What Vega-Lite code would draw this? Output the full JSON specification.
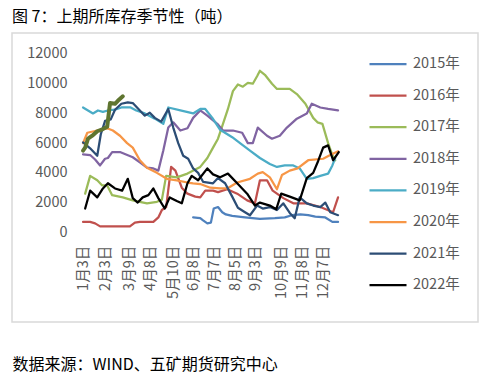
{
  "$schema": "https://vega.github.io/schema/vega-lite/v6.json",
  "width": 466,
  "height": 289,
  "autosize": "none",
  "padding": {"left": 12, "top": 33, "right": 11, "bottom": 59},
  "background": "white",
  "config": {
    "view": {"stroke": "#d9d9d9", "strokeWidth": 1.5},
    "font": "Noto Sans CJK SC"
  },
  "title": {
    "text": "图 7：上期所库存季节性（吨）",
    "anchor": "start",
    "frame": "group",
    "offset": 8,
    "fontSize": 16,
    "fontWeight": "normal",
    "color": "#000000",
    "font": "Noto Sans CJK SC"
  },
  "datasets": {
    "series": [
      {"s": "2015年", "d": "2022/06/07", "v": 1000},
      {"s": "2015年", "d": "2022/06/17", "v": 950},
      {"s": "2015年", "d": "2022/06/21", "v": 800},
      {"s": "2015年", "d": "2022/06/27", "v": 600},
      {"s": "2015年", "d": "2022/07/02", "v": 650},
      {"s": "2015年", "d": "2022/07/06", "v": 1600},
      {"s": "2015年", "d": "2022/07/12", "v": 1700},
      {"s": "2015年", "d": "2022/07/18", "v": 1350},
      {"s": "2015年", "d": "2022/07/23", "v": 1200},
      {"s": "2015年", "d": "2022/08/01", "v": 1100},
      {"s": "2015年", "d": "2022/08/19", "v": 1000},
      {"s": "2015年", "d": "2022/09/09", "v": 900},
      {"s": "2015年", "d": "2022/09/30", "v": 950},
      {"s": "2015年", "d": "2022/10/14", "v": 1000},
      {"s": "2015年", "d": "2022/10/24", "v": 1150},
      {"s": "2015年", "d": "2022/11/05", "v": 1200},
      {"s": "2015年", "d": "2022/11/16", "v": 1150},
      {"s": "2015年", "d": "2022/11/26", "v": 1050},
      {"s": "2015年", "d": "2022/12/10", "v": 1000},
      {"s": "2015年", "d": "2022/12/20", "v": 700},
      {"s": "2015年", "d": "2022/12/28", "v": 700},

      {"s": "2016年", "d": "2022/01/03", "v": 700},
      {"s": "2016年", "d": "2022/01/13", "v": 700},
      {"s": "2016年", "d": "2022/01/20", "v": 600},
      {"s": "2016年", "d": "2022/01/27", "v": 400},
      {"s": "2016年", "d": "2022/02/10", "v": 400},
      {"s": "2016年", "d": "2022/03/03", "v": 400},
      {"s": "2016年", "d": "2022/03/10", "v": 400},
      {"s": "2016年", "d": "2022/03/17", "v": 650},
      {"s": "2016年", "d": "2022/03/24", "v": 700},
      {"s": "2016年", "d": "2022/04/12", "v": 700},
      {"s": "2016年", "d": "2022/04/19", "v": 1000},
      {"s": "2016年", "d": "2022/04/24", "v": 1500},
      {"s": "2016年", "d": "2022/04/30", "v": 1700},
      {"s": "2016年", "d": "2022/05/07", "v": 4400},
      {"s": "2016年", "d": "2022/05/13", "v": 4150},
      {"s": "2016年", "d": "2022/05/22", "v": 3000},
      {"s": "2016年", "d": "2022/05/30", "v": 2600},
      {"s": "2016年", "d": "2022/06/10", "v": 2400},
      {"s": "2016年", "d": "2022/06/17", "v": 2350},
      {"s": "2016年", "d": "2022/06/24", "v": 2800},
      {"s": "2016年", "d": "2022/07/05", "v": 2800},
      {"s": "2016年", "d": "2022/07/12", "v": 2700},
      {"s": "2016年", "d": "2022/07/25", "v": 2900},
      {"s": "2016年", "d": "2022/08/08", "v": 2600},
      {"s": "2016年", "d": "2022/08/22", "v": 2150},
      {"s": "2016年", "d": "2022/09/02", "v": 1950},
      {"s": "2016年", "d": "2022/09/09", "v": 3500},
      {"s": "2016年", "d": "2022/09/19", "v": 3500},
      {"s": "2016年", "d": "2022/09/27", "v": 2800},
      {"s": "2016年", "d": "2022/10/12", "v": 2300},
      {"s": "2016年", "d": "2022/10/26", "v": 1950},
      {"s": "2016年", "d": "2022/11/14", "v": 1950},
      {"s": "2016年", "d": "2022/12/03", "v": 1700},
      {"s": "2016年", "d": "2022/12/21", "v": 1350},
      {"s": "2016年", "d": "2022/12/28", "v": 2350},

      {"s": "2017年", "d": "2022/01/06", "v": 2600},
      {"s": "2017年", "d": "2022/01/13", "v": 3800},
      {"s": "2017年", "d": "2022/01/23", "v": 3500},
      {"s": "2017年", "d": "2022/01/30", "v": 3150},
      {"s": "2017年", "d": "2022/02/06", "v": 3150},
      {"s": "2017年", "d": "2022/02/13", "v": 2500},
      {"s": "2017年", "d": "2022/02/28", "v": 2350},
      {"s": "2017年", "d": "2022/03/14", "v": 2150},
      {"s": "2017年", "d": "2022/04/03", "v": 1950},
      {"s": "2017年", "d": "2022/04/17", "v": 2050},
      {"s": "2017年", "d": "2022/04/24", "v": 2200},
      {"s": "2017年", "d": "2022/04/30", "v": 3800},
      {"s": "2017年", "d": "2022/05/15", "v": 3700},
      {"s": "2017年", "d": "2022/05/30", "v": 3950},
      {"s": "2017年", "d": "2022/06/17", "v": 4400},
      {"s": "2017年", "d": "2022/06/27", "v": 5000},
      {"s": "2017年", "d": "2022/07/05", "v": 5700},
      {"s": "2017年", "d": "2022/07/12", "v": 6300},
      {"s": "2017年", "d": "2022/07/19", "v": 7300},
      {"s": "2017年", "d": "2022/07/26", "v": 8300},
      {"s": "2017年", "d": "2022/08/02", "v": 9500},
      {"s": "2017年", "d": "2022/08/09", "v": 9950},
      {"s": "2017年", "d": "2022/08/16", "v": 9800},
      {"s": "2017年", "d": "2022/08/23", "v": 10050},
      {"s": "2017年", "d": "2022/08/30", "v": 10000},
      {"s": "2017年", "d": "2022/09/05", "v": 10500},
      {"s": "2017年", "d": "2022/09/09", "v": 10870},
      {"s": "2017年", "d": "2022/09/16", "v": 10600},
      {"s": "2017年", "d": "2022/09/26", "v": 10000},
      {"s": "2017年", "d": "2022/10/03", "v": 9650},
      {"s": "2017年", "d": "2022/10/21", "v": 9650},
      {"s": "2017年", "d": "2022/10/31", "v": 9300},
      {"s": "2017年", "d": "2022/11/12", "v": 8650},
      {"s": "2017年", "d": "2022/11/23", "v": 7700},
      {"s": "2017年", "d": "2022/11/29", "v": 7400},
      {"s": "2017年", "d": "2022/12/06", "v": 7300},
      {"s": "2017年", "d": "2022/12/14", "v": 6000},
      {"s": "2017年", "d": "2022/12/20", "v": 5200},
      {"s": "2017年", "d": "2022/12/24", "v": 4850},

      {"s": "2018年", "d": "2022/01/03", "v": 5250},
      {"s": "2018年", "d": "2022/01/13", "v": 5200},
      {"s": "2018年", "d": "2022/01/20", "v": 4900},
      {"s": "2018年", "d": "2022/01/27", "v": 4500},
      {"s": "2018年", "d": "2022/02/03", "v": 4950},
      {"s": "2018年", "d": "2022/02/07", "v": 5000},
      {"s": "2018年", "d": "2022/02/13", "v": 5400},
      {"s": "2018年", "d": "2022/02/24", "v": 5400},
      {"s": "2018年", "d": "2022/03/14", "v": 5050},
      {"s": "2018年", "d": "2022/03/24", "v": 4700},
      {"s": "2018年", "d": "2022/04/03", "v": 4350},
      {"s": "2018年", "d": "2022/04/12", "v": 4300},
      {"s": "2018年", "d": "2022/04/19", "v": 4150},
      {"s": "2018年", "d": "2022/04/26", "v": 5500},
      {"s": "2018年", "d": "2022/05/03", "v": 7050},
      {"s": "2018年", "d": "2022/05/10", "v": 7400},
      {"s": "2018年", "d": "2022/05/20", "v": 6850},
      {"s": "2018年", "d": "2022/05/30", "v": 7000},
      {"s": "2018年", "d": "2022/06/07", "v": 7700},
      {"s": "2018年", "d": "2022/06/17", "v": 8200},
      {"s": "2018年", "d": "2022/06/27", "v": 7850},
      {"s": "2018年", "d": "2022/07/11", "v": 7300},
      {"s": "2018年", "d": "2022/07/19", "v": 6850},
      {"s": "2018年", "d": "2022/08/02", "v": 6850},
      {"s": "2018年", "d": "2022/08/15", "v": 6700},
      {"s": "2018年", "d": "2022/08/23", "v": 6000},
      {"s": "2018年", "d": "2022/08/30", "v": 6000},
      {"s": "2018年", "d": "2022/09/06", "v": 7050},
      {"s": "2018年", "d": "2022/09/19", "v": 6500},
      {"s": "2018年", "d": "2022/09/26", "v": 6300},
      {"s": "2018年", "d": "2022/10/07", "v": 6500},
      {"s": "2018年", "d": "2022/10/17", "v": 7050},
      {"s": "2018年", "d": "2022/10/31", "v": 7650},
      {"s": "2018年", "d": "2022/11/14", "v": 8000},
      {"s": "2018年", "d": "2022/11/21", "v": 8650},
      {"s": "2018年", "d": "2022/12/03", "v": 8400},
      {"s": "2018年", "d": "2022/12/14", "v": 8300},
      {"s": "2018年", "d": "2022/12/28", "v": 8200},

      {"s": "2019年", "d": "2022/01/03", "v": 8400},
      {"s": "2019年", "d": "2022/01/10", "v": 8200},
      {"s": "2019年", "d": "2022/01/17", "v": 8000},
      {"s": "2019年", "d": "2022/01/24", "v": 8200},
      {"s": "2019年", "d": "2022/01/31", "v": 8100},
      {"s": "2019年", "d": "2022/02/07", "v": 8200},
      {"s": "2019年", "d": "2022/02/17", "v": 8250},
      {"s": "2019年", "d": "2022/02/26", "v": 8400},
      {"s": "2019年", "d": "2022/03/11", "v": 8400},
      {"s": "2019年", "d": "2022/03/19", "v": 8200},
      {"s": "2019年", "d": "2022/03/31", "v": 8000},
      {"s": "2019年", "d": "2022/04/14", "v": 7650},
      {"s": "2019年", "d": "2022/04/26", "v": 7300},
      {"s": "2019年", "d": "2022/05/03", "v": 8400},
      {"s": "2019年", "d": "2022/05/20", "v": 8200},
      {"s": "2019年", "d": "2022/06/07", "v": 8000},
      {"s": "2019年", "d": "2022/06/17", "v": 8300},
      {"s": "2019年", "d": "2022/06/24", "v": 8300},
      {"s": "2019年", "d": "2022/07/04", "v": 7700},
      {"s": "2019年", "d": "2022/07/15", "v": 6900},
      {"s": "2019年", "d": "2022/08/01", "v": 6400},
      {"s": "2019年", "d": "2022/08/12", "v": 6000},
      {"s": "2019年", "d": "2022/08/26", "v": 5500},
      {"s": "2019年", "d": "2022/09/09", "v": 5000},
      {"s": "2019年", "d": "2022/09/23", "v": 4600},
      {"s": "2019年", "d": "2022/10/03", "v": 4400},
      {"s": "2019年", "d": "2022/10/14", "v": 4500},
      {"s": "2019年", "d": "2022/10/26", "v": 4500},
      {"s": "2019年", "d": "2022/11/04", "v": 4300},
      {"s": "2019年", "d": "2022/11/14", "v": 3600},
      {"s": "2019年", "d": "2022/11/23", "v": 3650},
      {"s": "2019年", "d": "2022/12/03", "v": 3800},
      {"s": "2019年", "d": "2022/12/14", "v": 3950},
      {"s": "2019年", "d": "2022/12/20", "v": 4500},
      {"s": "2019年", "d": "2022/12/24", "v": 5000},

      {"s": "2020年", "d": "2022/01/03", "v": 6000},
      {"s": "2020年", "d": "2022/01/09", "v": 6700},
      {"s": "2020年", "d": "2022/01/23", "v": 6850},
      {"s": "2020年", "d": "2022/02/06", "v": 7000},
      {"s": "2020年", "d": "2022/02/14", "v": 6850},
      {"s": "2020年", "d": "2022/02/24", "v": 6500},
      {"s": "2020年", "d": "2022/03/06", "v": 6000},
      {"s": "2020年", "d": "2022/03/14", "v": 5700},
      {"s": "2020年", "d": "2022/03/24", "v": 4850},
      {"s": "2020年", "d": "2022/04/03", "v": 4350},
      {"s": "2020年", "d": "2022/04/17", "v": 4000},
      {"s": "2020年", "d": "2022/05/01", "v": 3600},
      {"s": "2020年", "d": "2022/05/15", "v": 3500},
      {"s": "2020年", "d": "2022/05/30", "v": 3350},
      {"s": "2020年", "d": "2022/06/07", "v": 3300},
      {"s": "2020年", "d": "2022/06/17", "v": 3250},
      {"s": "2020年", "d": "2022/07/01", "v": 3000},
      {"s": "2020年", "d": "2022/07/15", "v": 2950},
      {"s": "2020年", "d": "2022/07/25", "v": 2950},
      {"s": "2020年", "d": "2022/08/08", "v": 3350},
      {"s": "2020年", "d": "2022/08/26", "v": 3600},
      {"s": "2020年", "d": "2022/09/06", "v": 3950},
      {"s": "2020年", "d": "2022/09/13", "v": 4050},
      {"s": "2020年", "d": "2022/09/23", "v": 3700},
      {"s": "2020年", "d": "2022/10/03", "v": 2900},
      {"s": "2020年", "d": "2022/10/10", "v": 3850},
      {"s": "2020年", "d": "2022/10/21", "v": 4150},
      {"s": "2020年", "d": "2022/11/01", "v": 4300},
      {"s": "2020年", "d": "2022/11/16", "v": 4850},
      {"s": "2020年", "d": "2022/12/07", "v": 4950},
      {"s": "2020年", "d": "2022/12/17", "v": 5200},
      {"s": "2020年", "d": "2022/12/28", "v": 5450},

      {"s": "2021年", "d": "2022/01/03", "v": 6050},
      {"s": "2021年", "d": "2022/01/13", "v": 5650},
      {"s": "2021年", "d": "2022/01/23", "v": 5150},
      {"s": "2021年", "d": "2022/01/28", "v": 6600},
      {"s": "2021年", "d": "2022/02/03", "v": 7500},
      {"s": "2021年", "d": "2022/02/11", "v": 7600},
      {"s": "2021年", "d": "2022/02/17", "v": 8250},
      {"s": "2021年", "d": "2022/02/26", "v": 8650},
      {"s": "2021年", "d": "2022/03/07", "v": 8750},
      {"s": "2021年", "d": "2022/03/14", "v": 8700},
      {"s": "2021年", "d": "2022/03/21", "v": 8350},
      {"s": "2021年", "d": "2022/03/31", "v": 7850},
      {"s": "2021年", "d": "2022/04/07", "v": 8050},
      {"s": "2021年", "d": "2022/04/14", "v": 7700},
      {"s": "2021年", "d": "2022/04/23", "v": 7450},
      {"s": "2021年", "d": "2022/05/03", "v": 8300},
      {"s": "2021年", "d": "2022/05/10", "v": 7050},
      {"s": "2021年", "d": "2022/05/17", "v": 6000},
      {"s": "2021年", "d": "2022/05/24", "v": 5150},
      {"s": "2021年", "d": "2022/05/31", "v": 4950},
      {"s": "2021年", "d": "2022/06/07", "v": 4300},
      {"s": "2021年", "d": "2022/06/14", "v": 4000},
      {"s": "2021年", "d": "2022/06/21", "v": 3400},
      {"s": "2021年", "d": "2022/06/28", "v": 3350},
      {"s": "2021年", "d": "2022/07/05", "v": 3300},
      {"s": "2021年", "d": "2022/07/12", "v": 3650},
      {"s": "2021年", "d": "2022/07/22", "v": 3300},
      {"s": "2021年", "d": "2022/08/01", "v": 2400},
      {"s": "2021年", "d": "2022/08/09", "v": 1650},
      {"s": "2021年", "d": "2022/08/19", "v": 1350},
      {"s": "2021年", "d": "2022/08/26", "v": 1150},
      {"s": "2021年", "d": "2022/09/05", "v": 1800},
      {"s": "2021年", "d": "2022/09/13", "v": 1600},
      {"s": "2021年", "d": "2022/09/23", "v": 1700},
      {"s": "2021年", "d": "2022/10/03", "v": 1500},
      {"s": "2021年", "d": "2022/10/12", "v": 1950},
      {"s": "2021年", "d": "2022/10/21", "v": 1300},
      {"s": "2021年", "d": "2022/10/28", "v": 950},
      {"s": "2021年", "d": "2022/11/04", "v": 2350},
      {"s": "2021年", "d": "2022/11/14", "v": 1950},
      {"s": "2021年", "d": "2022/11/23", "v": 1800},
      {"s": "2021年", "d": "2022/12/03", "v": 1700},
      {"s": "2021年", "d": "2022/12/10", "v": 2000},
      {"s": "2021年", "d": "2022/12/17", "v": 1350},
      {"s": "2021年", "d": "2022/12/28", "v": 1150},

      {"s": "2022年", "d": "2022/01/06", "v": 1600},
      {"s": "2022年", "d": "2022/01/13", "v": 2800},
      {"s": "2022年", "d": "2022/01/23", "v": 2350},
      {"s": "2022年", "d": "2022/01/31", "v": 2950},
      {"s": "2022年", "d": "2022/02/07", "v": 3300},
      {"s": "2022年", "d": "2022/02/17", "v": 2950},
      {"s": "2022年", "d": "2022/02/27", "v": 2800},
      {"s": "2022年", "d": "2022/03/07", "v": 3600},
      {"s": "2022年", "d": "2022/03/14", "v": 2300},
      {"s": "2022年", "d": "2022/03/21", "v": 2000},
      {"s": "2022年", "d": "2022/03/28", "v": 2350},
      {"s": "2022年", "d": "2022/04/05", "v": 2500},
      {"s": "2022年", "d": "2022/04/12", "v": 2950},
      {"s": "2022年", "d": "2022/04/19", "v": 2300},
      {"s": "2022年", "d": "2022/04/28", "v": 1600},
      {"s": "2022年", "d": "2022/05/05", "v": 2350},
      {"s": "2022年", "d": "2022/05/15", "v": 2100},
      {"s": "2022年", "d": "2022/05/22", "v": 1950},
      {"s": "2022年", "d": "2022/05/30", "v": 3300},
      {"s": "2022年", "d": "2022/06/05", "v": 3800},
      {"s": "2022年", "d": "2022/06/14", "v": 3500},
      {"s": "2022年", "d": "2022/06/27", "v": 4300},
      {"s": "2022年", "d": "2022/07/05", "v": 3900},
      {"s": "2022年", "d": "2022/07/15", "v": 3700},
      {"s": "2022年", "d": "2022/07/26", "v": 3950},
      {"s": "2022年", "d": "2022/08/08", "v": 3300},
      {"s": "2022年", "d": "2022/08/22", "v": 2600},
      {"s": "2022年", "d": "2022/09/02", "v": 1800},
      {"s": "2022年", "d": "2022/09/09", "v": 2000},
      {"s": "2022年", "d": "2022/09/23", "v": 1800},
      {"s": "2022年", "d": "2022/10/02", "v": 1550},
      {"s": "2022年", "d": "2022/10/09", "v": 2600},
      {"s": "2022年", "d": "2022/10/21", "v": 2400},
      {"s": "2022年", "d": "2022/11/04", "v": 2150},
      {"s": "2022年", "d": "2022/11/14", "v": 3650},
      {"s": "2022年", "d": "2022/11/23", "v": 4000},
      {"s": "2022年", "d": "2022/11/30", "v": 4800},
      {"s": "2022年", "d": "2022/12/07", "v": 5700},
      {"s": "2022年", "d": "2022/12/14", "v": 5850},
      {"s": "2022年", "d": "2022/12/21", "v": 4850},
      {"s": "2022年", "d": "2022/12/29", "v": 5400}
    ],
    "extra": [
      {"s": "2023年", "d": "2022/01/03", "v": 5500},
      {"s": "2023年", "d": "2022/01/06", "v": 5700},
      {"s": "2023年", "d": "2022/01/10", "v": 6300},
      {"s": "2023年", "d": "2022/01/16", "v": 6500},
      {"s": "2023年", "d": "2022/01/23", "v": 6800},
      {"s": "2023年", "d": "2022/01/31", "v": 6950},
      {"s": "2023年", "d": "2022/02/06", "v": 7100},
      {"s": "2023年", "d": "2022/02/10", "v": 8700},
      {"s": "2023年", "d": "2022/02/17", "v": 8650},
      {"s": "2023年", "d": "2022/02/21", "v": 8850},
      {"s": "2023年", "d": "2022/02/28", "v": 9150}
    ]
  },
  "layer": [
    {
      "mark": {"type": "rule", "color": "#d9d9d9", "strokeWidth": 1.5},
      "encoding": {
        "x": {"datum": {"year": 2022, "month": 1, "date": 1}, "type": "temporal"},
        "x2": {"datum": {"year": 2022, "month": 12, "date": 31}},
        "y": {"datum": 0, "type": "quantitative"}
      }
    },
    {
      "data": {"name": "series"},
      "mark": {"type": "line", "strokeJoin": "round", "strokeCap": "round"},
      "encoding": {
        "x": {
          "field": "d",
          "type": "temporal",
          "scale": {"domain": [{"year": 2021, "month": 9, "date": 25}, {"year": 2023, "month": 7, "date": 13}], "nice": false},
          "axis": {
            "values": [
              {"year": 2022, "month": 1, "date": 3},
              {"year": 2022, "month": 2, "date": 3},
              {"year": 2022, "month": 3, "date": 9},
              {"year": 2022, "month": 4, "date": 8},
              {"year": 2022, "month": 5, "date": 10},
              {"year": 2022, "month": 6, "date": 8},
              {"year": 2022, "month": 7, "date": 7},
              {"year": 2022, "month": 8, "date": 5},
              {"year": 2022, "month": 9, "date": 3},
              {"year": 2022, "month": 10, "date": 9},
              {"year": 2022, "month": 11, "date": 8},
              {"year": 2022, "month": 12, "date": 7}
            ],
            "format": "%-m月%-d日",
            "labelAngle": 270,
            "labelFontSize": 14.5,
            "labelColor": "#595959",
            "labelOverlap": false,
            "labelFlush": false,
            "ticks": false,
            "domain": false,
            "grid": false,
            "offset": -89.7,
            "labelPadding": 13,
            "title": "数据来源：WIND、五矿期货研究中心",
            "titleX": 0,
            "titleY": 131.7,
            "titleAlign": "left",
            "titleBaseline": "middle",
            "titleAngle": 0,
            "titleFontSize": 16,
            "titleFontWeight": "normal",
            "titleColor": "#000000"
          }
        },
        "y": {
          "field": "v",
          "type": "quantitative",
          "scale": {"domain": [-6037, 13413], "nice": false, "zero": false},
          "axis": {
            "values": [0, 2000, 4000, 6000, 8000, 10000, 12000],
            "format": "d",
            "labelFontSize": 14.5,
            "labelColor": "#595959",
            "ticks": false,
            "domain": false,
            "grid": false,
            "offset": -60,
            "labelPadding": 5,
            "title": null
          }
        },
        "color": {
          "field": "s",
          "type": "nominal",
          "scale": {
            "domain": ["2015年", "2016年", "2017年", "2018年", "2019年", "2020年", "2021年", "2022年"],
            "range": ["#4F81BD", "#C0504D", "#9BBB59", "#8064A2", "#4BACC6", "#F79646", "#2C4D75", "#000000"]
          },
          "legend": {
            "orient": "none",
            "legendX": 356,
            "legendY": 22,
            "title": null,
            "symbolType": "stroke",
            "symbolSize": 1369,
            "symbolStrokeWidth": 3,
            "labelFontSize": 14.5,
            "labelColor": "#595959",
            "labelOffset": 5,
            "clipHeight": 18,
            "rowPadding": 13.6,
            "padding": 0
          }
        },
        "strokeWidth": {
          "field": "s",
          "type": "nominal",
          "scale": {
            "domain": ["2015年", "2016年", "2017年", "2018年", "2019年", "2020年", "2021年", "2022年"],
            "range": [2.25, 2.25, 2.25, 2.25, 2.25, 2.25, 2.25, 2.75]
          },
          "legend": null
        }
      }
    },
    {
      "data": {"name": "extra"},
      "mark": {"type": "line", "color": "#5F7530", "strokeWidth": 4, "strokeJoin": "round", "strokeCap": "round"},
      "encoding": {
        "x": {"field": "d", "type": "temporal"},
        "y": {"field": "v", "type": "quantitative"}
      }
    }
  ]
}
